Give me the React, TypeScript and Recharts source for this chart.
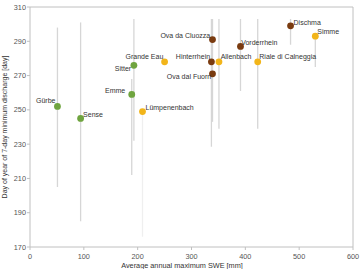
import React from "react";
import { ScatterChart, Scatter, XAxis, YAxis, ErrorBar, ReferenceLine, Label } from "recharts";

// Catchment names, regime group, average annual max SWE [mm], day of 7-day min discharge
const names = ["Gürbe", "Sense", "Sitter", "Emme", "Grande Eau", "Lümpenenbach", "Allenbach", "Riale di Calneggia", "Simme", "Ova da Cluozza", "Hinterrhein", "Ova dal Fuorn", "Vorderrhein", "Dischma"];
const groups = ["g", "g", "g", "g", "y", "y", "y", "y", "y", "b", "b", "b", "b", "b"];
const sweValues = [51, 94, 193, 189, 250, 209, 351, 423, 530, 339, 337, 339, 391, 484];
const dayValues = [252, 245, 276, 259, 278, 249, 278, 278, 293, 291, 278, 271, 287, 299];
// range of day-of-year (min / max) shown as vertical bars
const rangeMin = [205, 185, 232, 212, 278, 176, 239, 239, 275, 291, 228.5, 243, 261, 288];
const rangeMax = [298, 301, 303, 268, 278, 249, 303, 303, 293, 291, 303, 303, 303, 303];
const faintBars = ["Lümpenenbach"];

const xTicks = [0, 100, 200, 300, 400, 500, 600];
const yTicks = [170, 190, 210, 230, 250, 270, 290, 310];

const colors: Record<string, string> = { g: "#6fa43f", y: "#f2b51a", b: "#7a3b10" };

// label placement (anchor, dx, dy) per name
const labelPos: Record<string, [string, number, number]> = {
  "Gürbe": ["end", -2, -3.8],
  "Sense": ["start", 2.5, -1.8],
  "Grande Eau": ["end", -1.3, -2.8],
  "Sitter": ["end", -2.7, 5.8],
  "Emme": ["end", -6.5, -1.9],
  "Lümpenenbach": ["start", 3, -1.1],
  "Ova da Cluozza": ["end", -2.3, -1.5],
  "Hinterrhein": ["end", -1.3, -3.1],
  "Ova dal Fuorn": ["end", -1.3, 5.2],
  "Allenbach": ["start", 1.7, -3.1],
  "Vorderrhein": ["start", 0.7, -1.8],
  "Riale di Calneggia": ["start", 1.6, -3.1],
  "Dischma": ["start", 3, -0.9],
  "Simme": ["start", 2, -2.1],
};

const buildData = (g: string) =>
  names
    .map((n, i) => ({
      name: n,
      group: groups[i],
      x: sweValues[i],
      y: dayValues[i],
      err: faintBars.includes(n) ? [0, 0] : [dayValues[i] - rangeMin[i], rangeMax[i] - dayValues[i]],
      errFaint: faintBars.includes(n) ? [dayValues[i] - rangeMin[i], rangeMax[i] - dayValues[i]] : [0, 0],
    }))
    .filter((d) => d.group === g);

const FONT = "'Liberation Sans', Arial, sans-serif";

const Dot = (props: any) => {
  const { cx, cy, payload, fill } = props;
  const lp = labelPos[payload.name] || ["start", 3, -2];
  return (
    <g>
      <circle cx={cx} cy={cy} r={3.4} fill={fill} />
      <text
        x={cx + lp[1]}
        y={cy + lp[2]}
        textAnchor={lp[0] as any}
        fontSize={7}
        fontFamily={FONT}
        fill="#333333"
      >
        {payload.name}
      </text>
    </g>
  );
};

export default function App() {
  const axisStroke = "#c0c0c0";
  const tickStyle = { fontSize: 7.3, fontFamily: FONT, fill: "#555555" };
  return (
    <div style={{ position: "absolute", left: 0, top: 0, width: 360, height: 269, background: "#fff" }}>
      <ScatterChart width={360} height={269} margin={{ top: 7, right: 7, left: 0, bottom: 0 }}>
        <XAxis
          type="number"
          dataKey="x"
          domain={[0, 600]}
          ticks={xTicks}
          allowDataOverflow
          height={22}
          stroke={axisStroke}
          tickSize={3}
          tickMargin={3.5}
          tick={tickStyle}
        >
          <Label
            content={() => (
              <text x={182} y={267.5} textAnchor="middle" fontSize={7.3} fontFamily={FONT} fill="#333333">
                Average annual maximum SWE [mm]
              </text>
            )}
          />
        </XAxis>
        <YAxis
          type="number"
          dataKey="y"
          domain={[170, 310]}
          ticks={yTicks}
          allowDataOverflow
          width={30}
          stroke={axisStroke}
          tickSize={3}
          tickMargin={1}
          tick={tickStyle}
        >
          <Label
            content={() => (
              <text
                x={7}
                y={127}
                transform="rotate(-90 7 127)"
                textAnchor="middle"
                fontSize={7}
                fontFamily={FONT}
                fill="#333333"
              >
                Day of year of 7-day minimum discharge [day]
              </text>
            )}
          />
        </YAxis>
        <ReferenceLine y={310} stroke={axisStroke} />
        <ReferenceLine x={600} stroke={axisStroke} />
        {["g", "y", "b"].map((g) => (
          <Scatter key={g} data={buildData(g)} fill={colors[g]} isAnimationActive={false} shape={<Dot />}>
            <ErrorBar dataKey="err" direction="y" width={0} stroke="#d6d6d6" strokeWidth={1.3} isAnimationActive={false} />
            <ErrorBar dataKey="errFaint" direction="y" width={0} stroke="#efefef" strokeWidth={1.3} isAnimationActive={false} />
          </Scatter>
        ))}
      </ScatterChart>
    </div>
  );
}
